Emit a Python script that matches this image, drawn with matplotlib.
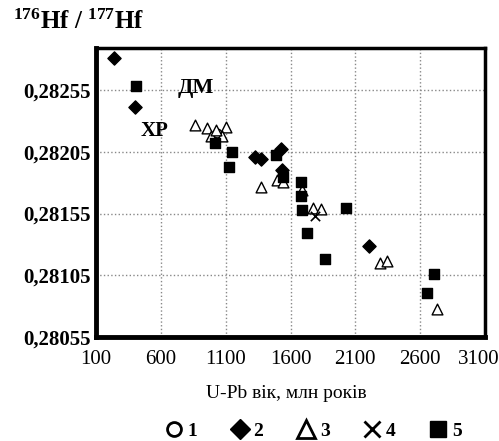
import numpy as np
import matplotlib
matplotlib.use('Agg')
import matplotlib.pyplot as plt
import matplotlib.transforms as mtransforms
from matplotlib.lines import Line2D

plt.rcParams['font.family'] = 'Liberation Serif'
plt.rcParams['mathtext.fontset'] = 'custom'
plt.rcParams['mathtext.bf'] = 'Liberation Serif:bold'
plt.rcParams['mathtext.rm'] = 'Liberation Serif:bold'
plt.rcParams['mathtext.default'] = 'bf'

# group 1 - circles
x1 = [1033]
y1 = [0.282202]
# group 2 - diamonds
x2 = [239, 401, 1326, 1372, 1527, 1534, 2205]
y2 = [0.282809, 0.282412, 0.282007, 0.281991, 0.282072, 0.281902, 0.281287]
# group 3 - triangles
x3 = [863, 956, 1103, 987, 1072, 1025, 1372, 1496, 1542, 1689, 1774, 1835,
      2290, 2344, 2730]
y3 = [0.282267, 0.282242, 0.282250, 0.282177, 0.282177, 0.282226, 0.281765,
      0.281821, 0.281805, 0.281740, 0.281595, 0.281586, 0.281149, 0.281165,
      0.280777]
# group 4 - crosses
x4 = [1789]
y4 = [0.281530]
# group 5 - squares
x5 = [408, 1018, 1149, 1126, 1488, 1542, 1681, 1681, 1689, 1727, 2028, 1866,
      2707, 2653]
y5 = [0.282582, 0.282121, 0.282048, 0.281926, 0.282024, 0.281846, 0.281805,
      0.281692, 0.281578, 0.281392, 0.281595, 0.281182, 0.281060, 0.280906]

xticks = [100, 600, 1100, 1600, 2100, 2600, 3100]
yticks = [0.28055, 0.28105, 0.28155, 0.28205, 0.28255]
ytick_labels = ['0,28055', '0,28105', '0,28155', '0,28205', '0,28255']

fig = plt.figure(figsize=(4.99, 4.41), dpi=100)
ax = fig.add_axes([0.1924, 0.2358, 0.7796, 0.6553])

ax.scatter(x1, y1, marker='o', s=40, facecolors='white', edgecolors='black', linewidths=1, zorder=3)
ax.scatter(x2, y2, marker='D', s=45, color='black', zorder=3)
ax.scatter(x3, y3, marker='^', s=60, facecolors='white', edgecolors='black', linewidths=1, zorder=3)
ax.scatter(x4, y4, marker='x', s=45, color='black', linewidths=1.2, zorder=3)
ax.scatter(x5, y5, marker='s', s=45, color='black', zorder=3)

ax.set_xlim(100, 3100)
ax.set_ylim(0.28055, 0.28289)
ax.set_xticks(xticks)
ax.set_xticklabels([str(t) for t in xticks], fontsize=15)
ax.set_yticks(yticks)
ax.set_yticklabels(ytick_labels, fontsize=15, fontweight='bold')
ax.tick_params(axis='both', direction='in', length=0, pad=4)
ax.tick_params(axis='x', pad=9)
ax.grid(True, linestyle=':', color='#888888', linewidth=1)
for sp in ax.spines.values():
    sp.set_linewidth(2.5)
ax.spines['left'].set_linewidth(3.5)
ax.spines['bottom'].set_linewidth(3.5)

# last x label sits slightly left of the axis end, like the reference
last = ax.get_xticklabels()[-1]
last.set_transform(last.get_transform() + mtransforms.ScaledTranslation(-6 / 100, 0, fig.dpi_scale_trans))

ax.text(871, 0.28257, 'ДМ', fontsize=16, fontweight='bold', ha='center', va='center')
ax.text(555, 0.28222, 'ХР', fontsize=15, fontweight='bold', ha='center', va='center')

fig.text(0.026, 0.950, r'$^{176}$Hf / $^{177}$Hf', fontsize=18, fontweight='bold',
         ha='left', va='center')
fig.text(0.574, 1 - 394 / 441, 'U-Pb вік, млн років', fontsize=14, ha='center', va='center')

handles = [
    Line2D([], [], marker='o', linestyle='none', markerfacecolor='white', markeredgecolor='black', markeredgewidth=2, markersize=10),
    Line2D([], [], marker='D', linestyle='none', color='black', markersize=10),
    Line2D([], [], marker='^', linestyle='none', markerfacecolor='white', markeredgecolor='black', markeredgewidth=2, markersize=13),
    Line2D([], [], marker='x', linestyle='none', color='black', markeredgewidth=2, markersize=11),
    Line2D([], [], marker='s', linestyle='none', color='black', markersize=12),
]
fig.legend(handles, ['1', '2', '3', '4', '5'], loc='center', ncol=5, frameon=False,
           bbox_to_anchor=(0.625, 1 - 431 / 441), prop={'size': 14, 'weight': 'bold'},
           handletextpad=0.1, columnspacing=1.6, handlelength=1.2)

fig.savefig('out.png', dpi=100)
